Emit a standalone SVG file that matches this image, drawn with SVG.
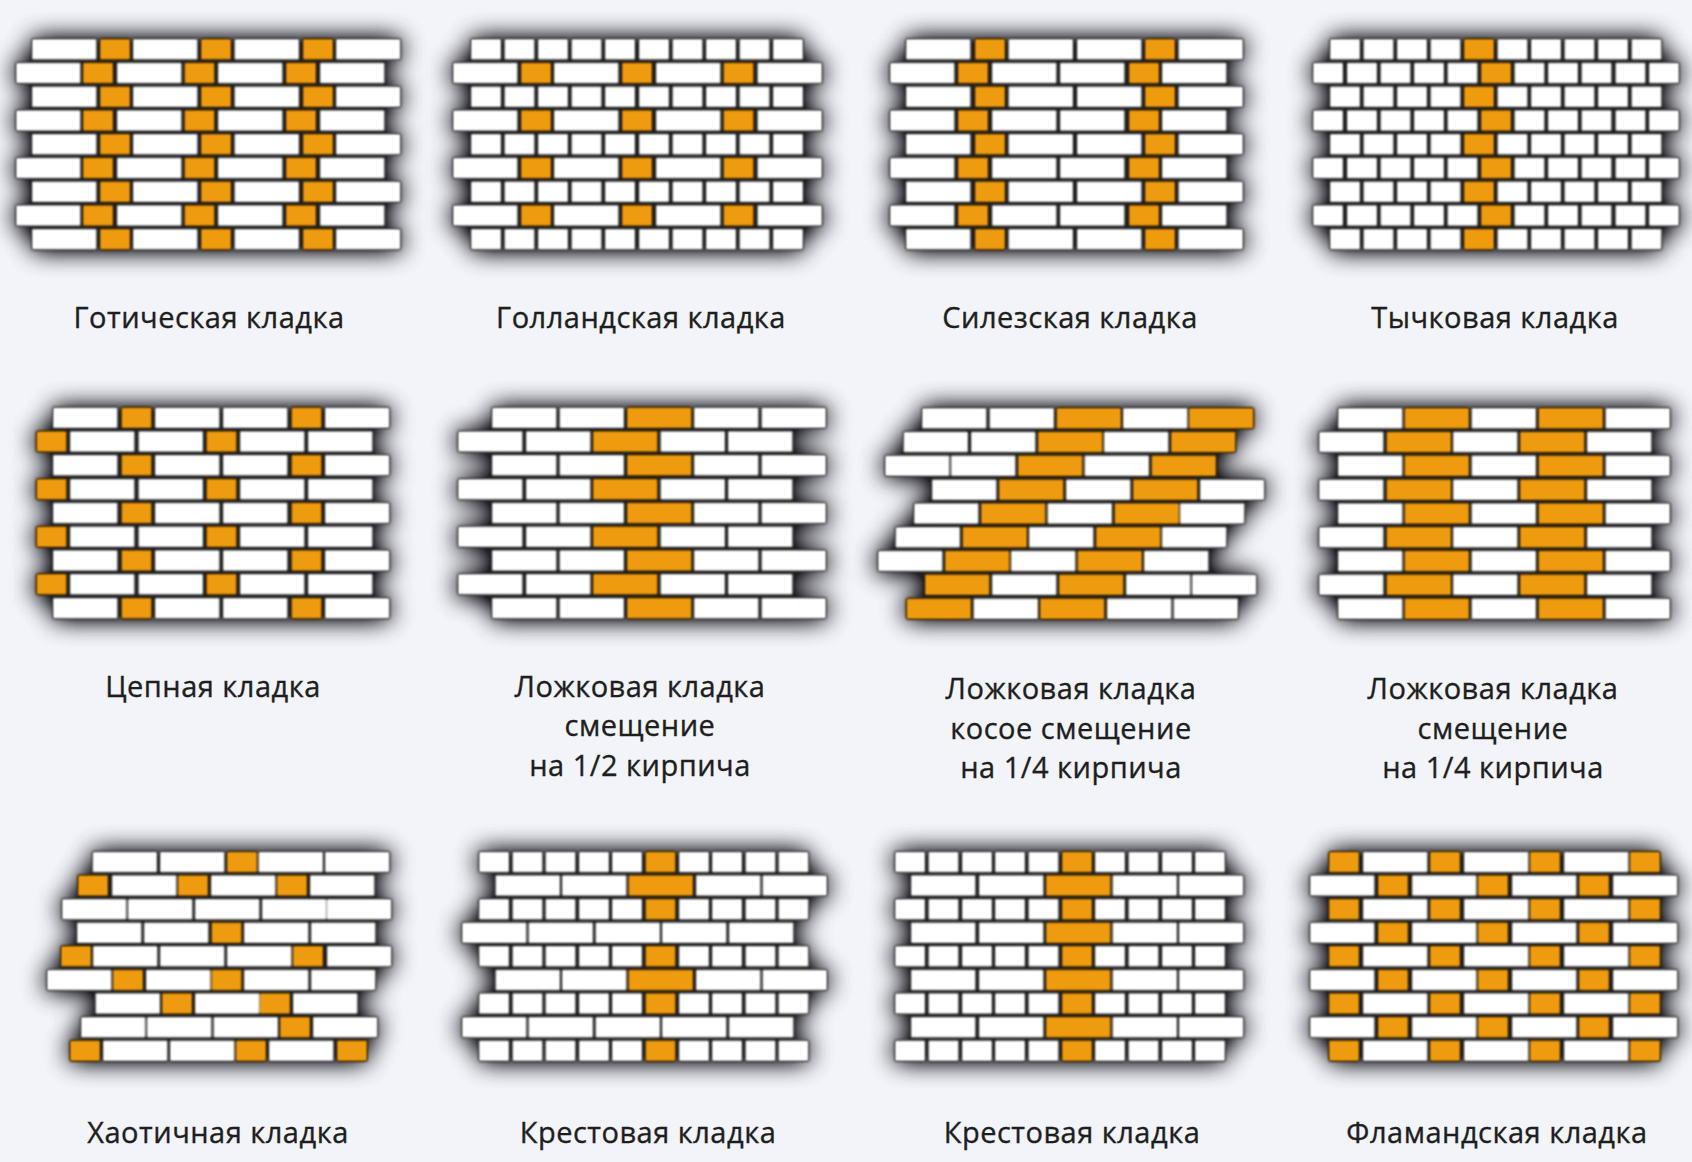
<svg xmlns="http://www.w3.org/2000/svg" width="1692" height="1162" viewBox="0 0 1692 1162">
<style>
.w{fill:#fff}.o{fill:#ee9b10}
.halo{fill:#15151b;opacity:.95}
text{font-family:"Open Sans","Noto Sans","Liberation Sans",sans-serif;font-size:29px;letter-spacing:.5px;fill:#1e1e1e;stroke:#1e1e1e;stroke-width:.35px;text-anchor:middle}
</style>
<defs>
<filter id="soft" filterUnits="userSpaceOnUse" x="0" y="0" width="1692" height="1162" color-interpolation-filters="sRGB">
<feGaussianBlur stdDeviation="13" result="bl"/>
<feComponentTransfer in="bl"><feFuncA type="linear" slope="1.6"/></feComponentTransfer>
</filter>
<filter id="sh" x="-5%" y="-8%" width="110%" height="116%" color-interpolation-filters="sRGB">
<feGaussianBlur in="SourceAlpha" stdDeviation="1.8" result="b"/>
<feColorMatrix in="b" type="matrix" values="0 0 0 0 0  0 0 0 0 0  0 0 0 0 0  0 0 0 1.7 0" result="tight"/>
<feGaussianBlur in="SourceGraphic" stdDeviation=".8" result="c"/>
<feMerge><feMergeNode in="tight"/><feMergeNode in="c"/></feMerge>
</filter>
<rect id="S" class="w" width="64.5" height="20.5" rx="1"/>
<rect id="H" class="w" width="30" height="20.5" rx="1"/>
<rect id="OS" class="o" width="64.5" height="20.5" rx="1"/>
<rect id="OH" class="o" width="30" height="20.5" rx="1"/>
<g id="r1a"><use href="#S" x="32"/><use href="#OH" x="100"/><use href="#S" x="133"/><use href="#OH" x="201"/><use href="#S" x="234.5"/><use href="#OH" x="303"/><use href="#S" x="336"/></g>
<g id="r1b"><use href="#S" x="16"/><use href="#OH" x="83"/><use href="#S" x="117"/><use href="#OH" x="184.500"/><use href="#S" x="218"/><use href="#OH" x="286"/><use href="#S" x="320"/></g>
<g id="r2a"><use href="#H" x="471"/><use href="#H" x="504.500"/><use href="#H" x="538"/><use href="#H" x="571.500"/><use href="#H" x="605"/><use href="#H" x="639"/><use href="#H" x="672.500"/><use href="#H" x="706"/><use href="#H" x="739.500"/><use href="#H" x="773"/></g>
<g id="r2b"><use href="#S" x="453"/><use href="#OH" x="521"/><use href="#S" x="554"/><use href="#OH" x="622"/><use href="#S" x="656"/><use href="#OH" x="723.500"/><use href="#S" x="757.500"/></g>
<g id="r3a"><use href="#S" x="906"/><use href="#OH" x="975"/><use href="#S" x="1008.500"/><use href="#S" x="1077"/><use href="#OH" x="1145"/><use href="#S" x="1178.500"/></g>
<g id="r3b"><use href="#S" x="890"/><use href="#OH" x="958"/><use href="#S" x="992"/><use href="#S" x="1060"/><use href="#OH" x="1129"/><use href="#S" x="1162"/></g>
<g id="r4a"><use href="#H" x="1330"/><use href="#H" x="1363.500"/><use href="#H" x="1397"/><use href="#H" x="1430.500"/><use href="#OH" x="1464"/><use href="#H" x="1497.500"/><use href="#H" x="1531"/><use href="#H" x="1564.500"/><use href="#H" x="1598"/><use href="#H" x="1631.500"/></g>
<g id="r4b"><use href="#H" x="1313"/><use href="#H" x="1347"/><use href="#H" x="1380.500"/><use href="#H" x="1414"/><use href="#H" x="1447.500"/><use href="#OH" x="1481"/><use href="#H" x="1514.500"/><use href="#H" x="1548"/><use href="#H" x="1581.500"/><use href="#H" x="1615.500"/><use href="#H" x="1649"/></g>
<g id="r5a"><use href="#S" x="53"/><use href="#OH" x="121.500"/><use href="#S" x="155"/><use href="#S" x="223"/><use href="#OH" x="291.500"/><use href="#S" x="325"/></g>
<g id="r5b"><use href="#OH" x="36.500"/><use href="#S" x="70"/><use href="#S" x="138.500"/><use href="#OH" x="206.500"/><use href="#S" x="240"/><use href="#S" x="308"/></g>
<g id="r6a"><use href="#S" x="492"/><use href="#S" x="559.500"/><use href="#OS" x="627"/><use href="#S" x="694"/><use href="#S" x="761.500"/></g>
<g id="r6b"><use href="#S" x="458"/><use href="#S" x="526"/><use href="#OS" x="593"/><use href="#S" x="660.500"/><use href="#S" x="728"/></g>
<g id="r8a"><use href="#S" x="1338"/><use href="#OS" x="1404.500"/><use href="#S" x="1471.500"/><use href="#OS" x="1538.500"/><use href="#S" x="1605.500"/></g>
<g id="r8b"><use href="#S" x="1319"/><use href="#OS" x="1386.500"/><use href="#S" x="1453"/><use href="#OS" x="1520"/><use href="#S" x="1587"/></g>
<g id="r10a"><use href="#H" x="479"/><use href="#H" x="512.500"/><use href="#H" x="545.500"/><use href="#H" x="579"/><use href="#H" x="612"/><use href="#OH" x="645.500"/><use href="#H" x="679"/><use href="#H" x="712"/><use href="#H" x="745.500"/><use href="#H" x="778.500"/></g>
<g id="r10b"><use href="#S" x="495.500"/><use href="#S" x="562"/><use href="#OS" x="628.500"/><use href="#S" x="696"/><use href="#S" x="762.500"/></g>
<g id="r10c"><use href="#S" x="462"/><use href="#S" x="528.500"/><use href="#S" x="595.500"/><use href="#S" x="662"/><use href="#S" x="729"/></g>
<g id="r11a"><use href="#H" x="895"/><use href="#H" x="928.500"/><use href="#H" x="962"/><use href="#H" x="995"/><use href="#H" x="1028.500"/><use href="#OH" x="1062"/><use href="#H" x="1095"/><use href="#H" x="1128.500"/><use href="#H" x="1162"/><use href="#H" x="1195"/></g>
<g id="r11b"><use href="#S" x="911"/><use href="#S" x="979"/><use href="#OS" x="1046"/><use href="#S" x="1112.500"/><use href="#S" x="1179"/></g>
<g id="r12a"><use href="#OH" x="1329"/><use href="#S" x="1363"/><use href="#OH" x="1430"/><use href="#S" x="1464"/><use href="#OH" x="1530"/><use href="#S" x="1564"/><use href="#OH" x="1630"/></g>
<g id="r12b"><use href="#S" x="1310"/><use href="#OH" x="1378"/><use href="#S" x="1412"/><use href="#OH" x="1478"/><use href="#S" x="1512"/><use href="#OH" x="1579"/><use href="#S" x="1613"/></g>
</defs>
<rect width="1692" height="1162" fill="#f3f4f9"/>

<g id="shadows" class="halo" filter="url(#soft)">
<path d="M32 39H400V60H32zM16 62H384V84H16zM32 86H400V108H32zM16 110H384V132H16zM32 134H400V156H32zM16 158H384V180H16zM32 181H400V204H32zM16 205H384V228H16zM32 229H400V250H32z"/>
<path d="M471 39H803V60H471zM453 62H822V84H453zM471 86H803V108H471zM453 110H822V132H453zM471 134H803V156H471zM453 158H822V180H453zM471 181H803V204H471zM453 205H822V228H453zM471 229H803V250H471z"/>
<path d="M906 39H1243V60H906zM890 62H1226V84H890zM906 86H1243V108H906zM890 110H1226V132H890zM906 134H1243V156H906zM890 158H1226V180H890zM906 181H1243V204H906zM890 205H1226V228H890zM906 229H1243V250H906z"/>
<path d="M1330 39H1661V60H1330zM1313 62H1679V84H1313zM1330 86H1661V108H1330zM1313 110H1679V132H1313zM1330 134H1661V156H1330zM1313 158H1679V180H1313zM1330 181H1661V204H1330zM1313 205H1679V228H1313zM1330 229H1661V250H1330z"/>
<path d="M53 408H389V429H53zM36 431H372V453H36zM53 455H389V477H53zM36 479H372V501H36zM53 503H389V525H53zM36 527H372V549H36zM53 550H389V573H53zM36 574H372V597H36zM53 598H389V619H53z"/>
<path d="M492 408H826V429H492zM458 431H792V453H458zM492 455H826V477H492zM458 479H792V501H458zM492 503H826V525H492zM458 527H792V549H458zM492 550H826V573H492zM458 574H792V597H458zM492 598H826V619H492z"/>
<path d="M922 408H1253V429H922zM903 431H1235V453H903zM885 455H1216V477H885zM932 479H1264V501H932zM914 503H1244V525H914zM895 527H1226V549H895zM878 550H1208V573H878zM925 574H1256V597H925zM906 598H1238V619H906z"/>
<path d="M1338 408H1670V429H1338zM1319 431H1651V453H1319zM1338 455H1670V477H1338zM1319 479H1651V501H1319zM1338 503H1670V525H1338zM1319 527H1651V549H1319zM1338 550H1670V573H1338zM1319 574H1651V597H1319zM1338 598H1670V619H1338z"/>
<path d="M92 852H389V873H92zM78 875H374V897H78zM62 899H391V920H62zM77 922H375V944H77zM61 946H391V968H61zM47 970H375V991H47zM95 993H357V1015H95zM81 1017H377V1038H81zM70 1040H367V1061H70z"/>
<path d="M479 852H808V873H479zM495 875H827V897H495zM479 899H808V920H479zM462 922H793V944H462zM479 946H808V968H479zM495 970H827V991H495zM479 993H808V1015H479zM462 1017H793V1038H462zM479 1040H808V1061H479z"/>
<path d="M895 852H1225V873H895zM911 875H1243V897H911zM895 899H1225V920H895zM911 922H1243V944H911zM895 946H1225V968H895zM911 970H1243V991H911zM895 993H1225V1015H895zM911 1017H1243V1038H911zM895 1040H1225V1061H895z"/>
<path d="M1329 852H1660V873H1329zM1310 875H1677V897H1310zM1329 899H1660V920H1329zM1310 922H1677V944H1310zM1329 946H1660V968H1329zM1310 970H1677V991H1310zM1329 993H1660V1015H1329zM1310 1017H1677V1038H1310zM1329 1040H1660V1061H1329z"/>
</g>

<g id="panel-gothic" filter="url(#sh)">
<use href="#r1a" y="39"/><use href="#r1b" y="62.750"/><use href="#r1a" y="86.500"/><use href="#r1b" y="110.250"/><use href="#r1a" y="134"/><use href="#r1b" y="157.750"/><use href="#r1a" y="181.500"/><use href="#r1b" y="205.250"/><use href="#r1a" y="229"/>
</g>
<g id="panel-dutch" filter="url(#sh)">
<use href="#r2a" y="39"/><use href="#r2b" y="62.750"/><use href="#r2a" y="86.500"/><use href="#r2b" y="110.250"/><use href="#r2a" y="134"/><use href="#r2b" y="157.750"/><use href="#r2a" y="181.500"/><use href="#r2b" y="205.250"/><use href="#r2a" y="229"/>
</g>
<g id="panel-silesian" filter="url(#sh)">
<use href="#r3a" y="39"/><use href="#r3b" y="62.750"/><use href="#r3a" y="86.500"/><use href="#r3b" y="110.250"/><use href="#r3a" y="134"/><use href="#r3b" y="157.750"/><use href="#r3a" y="181.500"/><use href="#r3b" y="205.250"/><use href="#r3a" y="229"/>
</g>
<g id="panel-header" filter="url(#sh)">
<use href="#r4a" y="39"/><use href="#r4b" y="62.750"/><use href="#r4a" y="86.500"/><use href="#r4b" y="110.250"/><use href="#r4a" y="134"/><use href="#r4b" y="157.750"/><use href="#r4a" y="181.500"/><use href="#r4b" y="205.250"/><use href="#r4a" y="229"/>
</g>

<g id="panel-chain" filter="url(#sh)">
<use href="#r5a" y="407.500"/><use href="#r5b" y="431.300"/><use href="#r5a" y="455.100"/><use href="#r5b" y="478.900"/><use href="#r5a" y="502.700"/><use href="#r5b" y="526.500"/><use href="#r5a" y="550.300"/><use href="#r5b" y="574.100"/><use href="#r5a" y="598"/>
</g>
<g id="panel-stretcher-half" filter="url(#sh)">
<use href="#r6a" y="407.500"/><use href="#r6b" y="431.300"/><use href="#r6a" y="455.100"/><use href="#r6b" y="478.900"/><use href="#r6a" y="502.700"/><use href="#r6b" y="526.500"/><use href="#r6a" y="550.300"/><use href="#r6b" y="574.100"/><use href="#r6a" y="598"/>
</g>
<g id="panel-stretcher-raking" filter="url(#sh)">
<g transform="translate(0 408)"><use href="#S" x="922"/><use href="#S" x="989.500"/><use href="#OS" x="1056.500"/><use href="#S" x="1123"/><use href="#OS" x="1189"/></g>
<g transform="translate(0 431.800)"><use href="#S" x="903.500"/><use href="#S" x="971"/><use href="#OS" x="1038"/><use href="#S" x="1104"/><use href="#OS" x="1171"/></g>
<g transform="translate(0 455.600)"><use href="#S" x="885"/><use href="#S" x="951"/><use href="#OS" x="1018"/><use href="#S" x="1084.500"/><use href="#OS" x="1151.500"/></g>
<g transform="translate(0 479.400)"><use href="#S" x="932"/><use href="#OS" x="999"/><use href="#S" x="1066"/><use href="#OS" x="1133"/><use href="#S" x="1200"/></g>
<g transform="translate(0 503.200)"><use href="#S" x="914"/><use href="#OS" x="981"/><use href="#S" x="1047.500"/><use href="#OS" x="1114.500"/><use href="#S" x="1180"/></g>
<g transform="translate(0 527)"><use href="#S" x="895.500"/><use href="#OS" x="962.500"/><use href="#S" x="1029"/><use href="#OS" x="1096"/><use href="#S" x="1162"/></g>
<g transform="translate(0 550.800)"><use href="#S" x="878"/><use href="#OS" x="945"/><use href="#S" x="1011"/><use href="#OS" x="1077.500"/><use href="#S" x="1144"/></g>
<g transform="translate(0 574.600)"><use href="#OS" x="925"/><use href="#S" x="992"/><use href="#OS" x="1059"/><use href="#S" x="1126"/><use href="#S" x="1192"/></g>
<g transform="translate(0 598.400)"><use href="#OS" x="906.500"/><use href="#S" x="973.500"/><use href="#OS" x="1040"/><use href="#S" x="1107"/><use href="#S" x="1173.500"/></g>
</g>
<g id="panel-stretcher-quarter" filter="url(#sh)">
<use href="#r8a" y="408"/><use href="#r8b" y="431.800"/><use href="#r8a" y="455.600"/><use href="#r8b" y="479.400"/><use href="#r8a" y="503.200"/><use href="#r8b" y="527"/><use href="#r8a" y="550.800"/><use href="#r8b" y="574.600"/><use href="#r8a" y="598.400"/>
</g>

<g id="panel-chaotic" filter="url(#sh)">
<g transform="translate(0 851.700)"><use href="#S" x="92.500"/><use href="#S" x="160"/><use href="#OH" x="227"/><use href="#S" x="258.500"/><use href="#S" x="325"/></g>
<g transform="translate(0 875.300)"><use href="#OH" x="78"/><use href="#S" x="112"/><use href="#OH" x="178"/><use href="#S" x="211"/><use href="#OH" x="277"/><use href="#S" x="310"/></g>
<g transform="translate(0 898.900)"><use href="#S" x="62"/><use href="#S" x="128"/><use href="#S" x="195"/><use href="#S" x="262"/><use href="#S" x="327"/></g>
<g transform="translate(0 922.500)"><use href="#S" x="77"/><use href="#S" x="144"/><use href="#OH" x="211.500"/><use href="#S" x="244"/><use href="#S" x="311"/></g>
<g transform="translate(0 946.100)"><use href="#OH" x="61"/><use href="#S" x="93"/><use href="#S" x="160"/><use href="#S" x="227"/><use href="#OH" x="293"/><use href="#S" x="327"/></g>
<g transform="translate(0 969.700)"><use href="#S" x="47"/><use href="#OH" x="113"/><use href="#S" x="146"/><use href="#OH" x="211.500"/><use href="#S" x="244"/><use href="#S" x="311"/></g>
<g transform="translate(0 993.300)"><use href="#S" x="95.500"/><use href="#OH" x="162"/><use href="#S" x="195"/><use href="#OH" x="260"/><use href="#S" x="293"/></g>
<g transform="translate(0 1016.900)"><use href="#S" x="81"/><use href="#S" x="147"/><use href="#S" x="213.500"/><use href="#OH" x="280"/><use href="#S" x="313"/></g>
<g transform="translate(0 1040.500)"><use href="#OH" x="70"/><use href="#S" x="103"/><use href="#S" x="170"/><use href="#OH" x="236"/><use href="#S" x="269"/><use href="#OH" x="337"/></g>
</g>
<g id="panel-cross-a" filter="url(#sh)">
<use href="#r10a" y="851.700"/><use href="#r10b" y="875.300"/><use href="#r10a" y="898.900"/><use href="#r10c" y="922.500"/><use href="#r10a" y="946.100"/><use href="#r10b" y="969.700"/><use href="#r10a" y="993.300"/><use href="#r10c" y="1016.900"/><use href="#r10a" y="1040.500"/>
</g>
<g id="panel-cross-b" filter="url(#sh)">
<use href="#r11a" y="851.700"/><use href="#r11b" y="875.300"/><use href="#r11a" y="898.900"/><use href="#r11b" y="922.500"/><use href="#r11a" y="946.100"/><use href="#r11b" y="969.700"/><use href="#r11a" y="993.300"/><use href="#r11b" y="1016.900"/><use href="#r11a" y="1040.500"/>
</g>
<g id="panel-flemish" filter="url(#sh)">
<use href="#r12a" y="851.700"/><use href="#r12b" y="875.300"/><use href="#r12a" y="898.900"/><use href="#r12b" y="922.500"/><use href="#r12a" y="946.100"/><use href="#r12b" y="969.700"/><use href="#r12a" y="993.300"/><use href="#r12b" y="1016.900"/><use href="#r12a" y="1040.500"/>
</g>

<g id="labels">
<text x="209" y="328">Готическая кладка</text>
<text x="641" y="328">Голландская кладка</text>
<text x="1070" y="328">Силезская кладка</text>
<text x="1495" y="328">Тычковая кладка</text>
<text x="213" y="697">Цепная кладка</text>
<text x="640" y="697">Ложковая кладка</text>
<text x="640" y="736">смещение</text>
<text x="640" y="776">на 1/2 кирпича</text>
<text x="1071" y="699">Ложковая кладка</text>
<text x="1071" y="739">косое смещение</text>
<text x="1071" y="778">на 1/4 кирпича</text>
<text x="1493" y="699">Ложковая кладка</text>
<text x="1493" y="739">смещение</text>
<text x="1493" y="778">на 1/4 кирпича</text>
<text x="218" y="1143">Хаотичная кладка</text>
<text x="648" y="1143">Крестовая кладка</text>
<text x="1072" y="1143">Крестовая кладка</text>
<text x="1497" y="1143">Фламандская кладка</text>
</g>
</svg>
